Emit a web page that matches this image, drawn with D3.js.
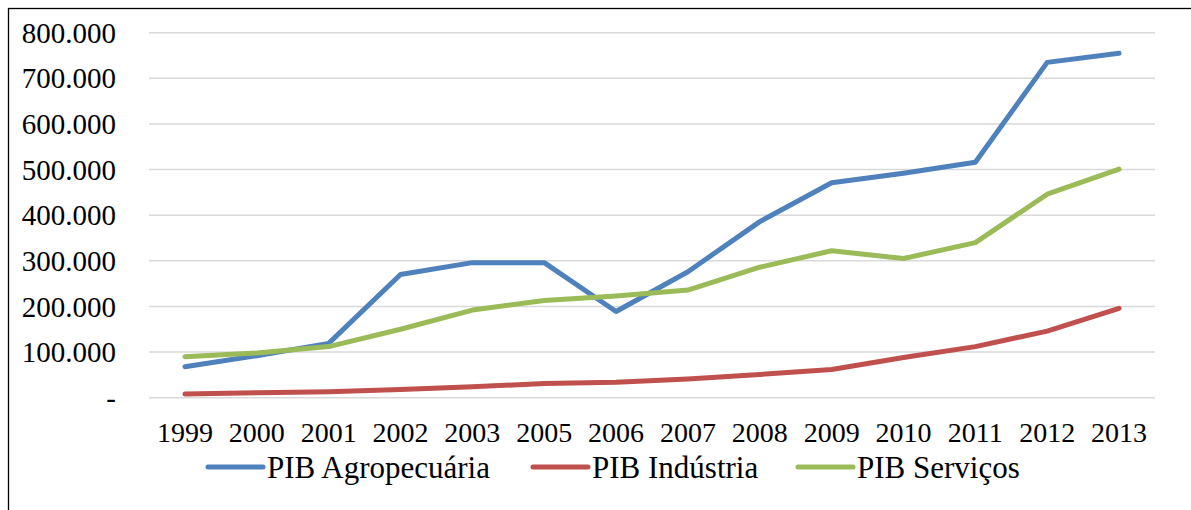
<!DOCTYPE html>
<html>
<head>
<meta charset="utf-8">
<script src="https://cdn.jsdelivr.net/npm/d3@7"></script>
<style>
  svg text { font-family: "Liberation Serif", "Times New Roman", serif !important; }
</style>
</head>
<body style="margin:0">
<svg id="chart" width="1191" height="510"></svg>
<script>
const years = ["1999","2000","2001","2002","2003","2005","2006","2007","2008","2009","2010","2011","2012","2013"];
const agro = [68000, 92000, 119000, 270000, 296000, 296000, 189000, 276000, 386000, 471000, 492000, 516000, 735000, 755000];
const industria = [8000, 11000, 13000, 18000, 24000, 31000, 34000, 41000, 51000, 62000, 88000, 112000, 146000, 196000];
const servicos = [90000, 98000, 112000, 150000, 192000, 213000, 223000, 236000, 286000, 322000, 305000, 340000, 446000, 501000];
const yTicks = [0, 100000, 200000, 300000, 400000, 500000, 600000, 700000, 800000];
const seriesNames = ["PIB Agropecuária", "PIB Indústria", "PIB Serviços"];
const seriesColors = ["#4F81BD", "#C0504D", "#9BBB59"];

const svg = d3.select("#chart");
const plotL = 149, plotR = 1155, plotT = 32.7, plotB = 397.7;
const fontStack = '"Liberation Serif", "Times New Roman", serif';

// frame (top and left edges visible)
svg.append("rect").attr("x", 8.5).attr("y", 8.5).attr("width", 1200).attr("height", 520)
  .attr("fill", "none").attr("stroke", "#000").attr("stroke-width", 1.3);

const x = d3.scaleBand().domain(years).range([plotL, plotR]).paddingInner(0).paddingOuter(0);
const y = d3.scaleLinear().domain([0, 800000]).range([plotB, plotT]);
const fmt = v => v === 0 ? "-" : d3.format(",.0f")(v).replace(/,/g, ".");

// gridlines
svg.append("g").selectAll("line").data(yTicks).join("line")
  .attr("x1", plotL).attr("x2", plotR)
  .attr("y1", d => y(d)).attr("y2", d => y(d))
  .attr("stroke", "#d9d9d9").attr("stroke-width", 1.5);

function serif(sel, size) {
  sel.style("font-family", fontStack, "important")
     .style("font-size", size + "px")
     .attr("fill", "#000");
}

// y axis labels
const yAxis = d3.axisLeft(y).tickValues(yTicks).tickFormat(fmt).tickSize(0).tickPadding(0);
const gy = svg.append("g").attr("transform", "translate(116,0)").call(yAxis);
gy.select(".domain").remove();
gy.attr("font-family", null).attr("font-size", null);
gy.selectAll("text").call(serif, 29).attr("dy", "0.33em");

// x axis labels
const xAxis = d3.axisBottom(x).tickSize(0).tickPadding(0);
const gx = svg.append("g").attr("transform", "translate(0,442)").call(xAxis);
gx.select(".domain").remove();
gx.attr("font-family", null).attr("font-size", null);
gx.selectAll("text").call(serif, 28).attr("dy", "0");

// lines
const data = [agro, industria, servicos];
const line = d3.line().x((d, i) => x(years[i]) + x.bandwidth() / 2).y(d => y(d));
svg.append("g").selectAll("path").data(data).join("path")
  .attr("d", d => line(d))
  .attr("fill", "none")
  .attr("stroke", (d, i) => seriesColors[i])
  .attr("stroke-width", 5)
  .attr("stroke-linejoin", "round")
  .attr("stroke-linecap", "round");

// legend
const legendX = [208, 533, 798];
seriesNames.forEach((name, i) => {
  svg.append("line").attr("x1", legendX[i]).attr("x2", legendX[i] + 55).attr("y1", 467).attr("y2", 467)
    .attr("stroke", seriesColors[i]).attr("stroke-width", 5).attr("stroke-linecap", "round");
  svg.append("text").attr("x", legendX[i] + 59).attr("y", 477.5)
    .call(serif, 31)
    .text(name);
});
</script>
</body>
</html>
